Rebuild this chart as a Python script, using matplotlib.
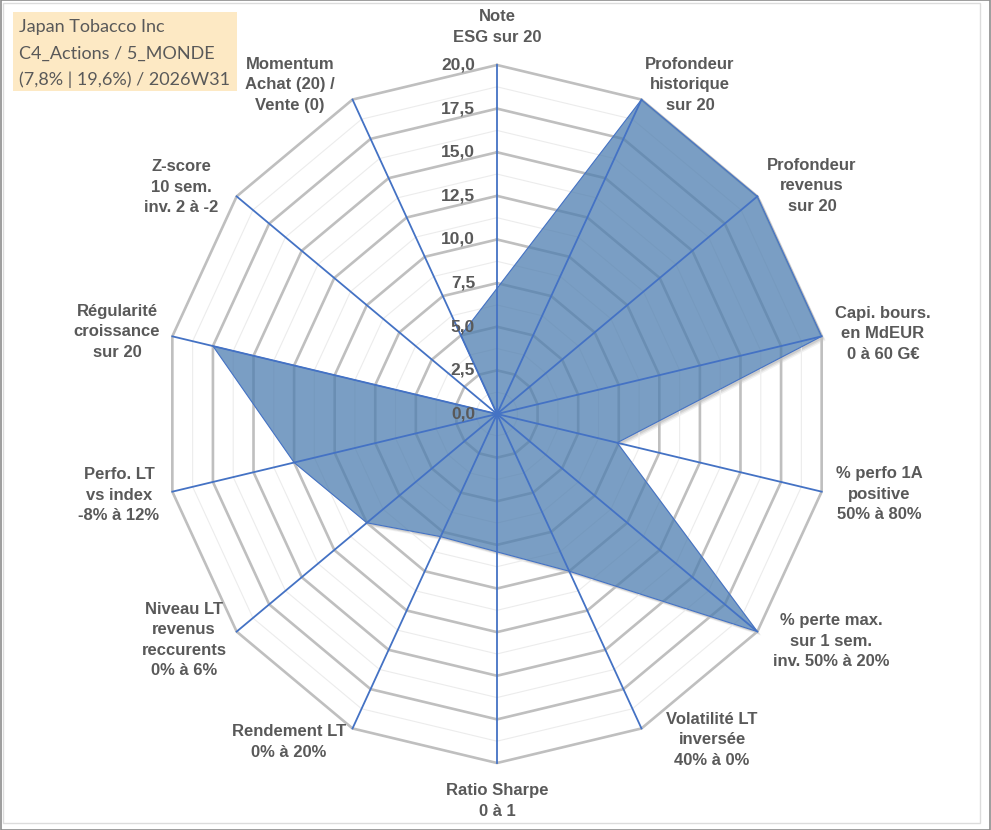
import matplotlib
matplotlib.use("Agg")
import matplotlib.pyplot as plt
from matplotlib.patches import Polygon, Rectangle
import numpy as np

# axes of the radar, clockwise from the top
labels = [
    "Note\nESG sur 20",
    "Profondeur\nhistorique\nsur 20",
    "Profondeur\nrevenus\nsur 20",
    "Capi. bours.\nen MdEUR\n0 à 60 G€",
    "% perfo 1A\npositive\n50% à 80%",
    "% perte max.\nsur 1 sem.\ninv. 50% à 20%",
    "Volatilité LT\ninversée\n40% à 0%",
    "Ratio Sharpe\n0 à 1",
    "Rendement LT\n0% à 20%",
    "Niveau LT\nrevenus\nreccurents\n0% à 6%",
    "Perfo. LT\nvs index\n-8% à 12%",
    "Régularité\ncroissance\nsur 20",
    "Z-score\n10 sem.\ninv. 2 à -2",
    "Momentum\nAchat (20) /\nVente (0)",
]
values = [7.2, 20, 20, 20, 7.4, 20, 10, 7.9, 7.8, 10, 12.5, 17.5, 0, 5]
ticks = [0, 2.5, 5, 7.5, 10, 12.5, 15, 17.5, 20]
tick_labels = ["0,0", "2,5", "5,0", "7,5", "10,0", "12,5", "15,0", "17,5", "20,0"]
title_lines = ["Japan Tobacco Inc", "C4_Actions / 5_MONDE", "(7,8% | 19,6%) / 2026W31"]

# label centres in pixels (x from left, y from top)
label_px = [(497, 27), (690, 85), (812, 186), (883, 334), (879, 494), (831, 641),
            (712, 740), (497, 801), (289, 742), (184, 640), (119, 495), (117, 332),
            (181, 187), (290, 85)]

W, H = 991, 830
cx, cy = 497, 414
sx, sy = 16.65, 17.45  # pixels per unit

fig = plt.figure(figsize=(W / 100, H / 100), dpi=100)
ax = fig.add_axes([0, 0, 1, 1])
ax.set_xlim(-cx / sx, (W - cx) / sx)
ax.set_ylim(-(H - cy) / sy, cy / sy)
ax.axis("off")


def px(x, y):
    return (x - cx) / sx, (cy - y) / sy


n = len(values)
theta = np.arange(n) * 2 * np.pi / n
s, c = np.sin(theta), np.cos(theta)
rmax = ticks[-1]
v = np.array(values)
pts = np.column_stack([v * s, v * c])

# soft shadow under the series, hidden inside the series by a white copy
for k, a in [(4, 0.05), (3, 0.07), (2, 0.09)]:
    ax.add_patch(Polygon(pts + [k / sx, -k / sy], closed=True, facecolor="black",
                         alpha=a, edgecolor="none", zorder=0.3))
ax.add_patch(Polygon(pts, closed=True, facecolor="white", edgecolor="none", zorder=0.6))

# minor rings
for r in np.arange(1.25, rmax + 0.01, 2.5):
    ax.plot(np.append(r * s, r * s[0]), np.append(r * c, r * c[0]),
            color="#ececec", lw=0.8, zorder=1)
# major rings
for r in ticks[1:]:
    ax.plot(np.append(r * s, r * s[0]), np.append(r * c, r * c[0]),
            color="#bfbfbf", lw=1.9, zorder=2, solid_joinstyle="miter")

ax.add_patch(Polygon(pts, closed=True,
                     facecolor=(78 / 255, 126 / 255, 176 / 255, 0.75),
                     edgecolor="#4472c4", lw=0.8, zorder=3))

# spokes
for si, ci in zip(s, c):
    ax.plot([0, rmax * si], [0, rmax * ci], color="#4472c4", lw=1.3, zorder=4)

# radial tick labels along the top spoke
for t, tl in zip(ticks, tick_labels):
    ax.text(-22 / sx, t, tl, ha="right", va="center", fontsize=12.5,
            fontweight="bold", color="#595959", family="Liberation Sans", zorder=5)

# axis labels
for lab, (lx, ly) in zip(labels, label_px):
    x, y = px(lx, ly)
    ax.text(x, y, lab, ha="center", va="center", fontsize=12, fontweight="bold",
            color="#595959", family=["Liberation Sans", "DejaVu Sans"],
            linespacing=1.45, zorder=5)

# title box
fig.patches.append(Rectangle((13 / W, 1 - 91 / H), 224 / W, 79 / H,
                             transform=fig.transFigure, facecolor="#fde9c4",
                             edgecolor="none", zorder=0))
for i, line in enumerate(title_lines):
    fig.text(19 / W, 1 - (27 + 26.5 * i) / H, line, ha="left", va="center",
             fontsize=13, color="#595959", family="Lato")

# frame
fig.patches.append(Rectangle((3 / W, 7 / H), 977 / W, 820 / H, transform=fig.transFigure,
                             facecolor="none", edgecolor="#dcdcdc", lw=1.0))
fig.patches.append(Rectangle((0.5 / W, 0.5 / H), 989.5 / W, 829 / H, transform=fig.transFigure,
                             facecolor="none", edgecolor="#8c8c8c", lw=1.2))

fig.savefig("out.png", dpi=100)
